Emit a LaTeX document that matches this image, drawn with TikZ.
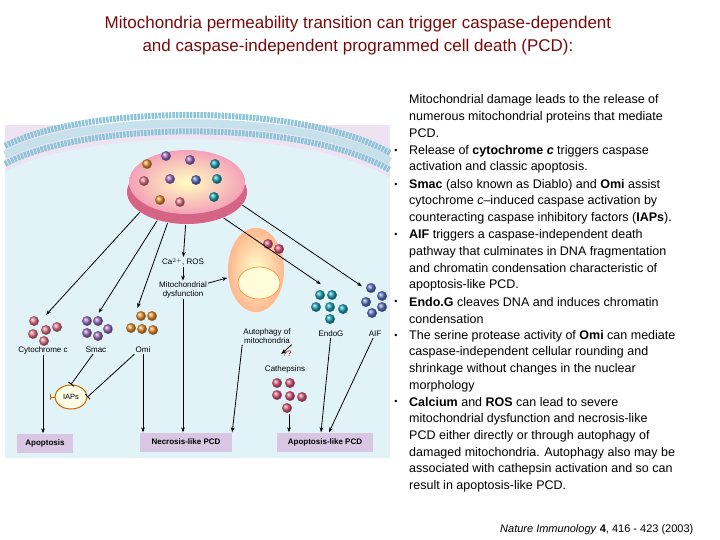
\documentclass[tikz,border=0pt]{standalone}
\usepackage{fontspec}
\setmainfont{Liberation Sans}
\usetikzlibrary{arrows.meta,shapes.geometric,calc}
\definecolor{titlered}{HTML}{7A0A0A}
\definecolor{cellbg}{HTML}{E2F3F8}
\definecolor{outbg}{HTML}{EDE3F2}
\definecolor{boxc}{HTML}{D9C6E3}
\definecolor{cyt}{HTML}{E8788C}
\definecolor{smac}{HTML}{A070C4}
\definecolor{omi}{HTML}{EC922E}
\definecolor{endog}{HTML}{1FA3BA}
\definecolor{aif}{HTML}{5E72C4}
\definecolor{cath}{HTML}{E05A82}
\definecolor{mito}{HTML}{EE6F93}
\definecolor{memb}{HTML}{8CC4D8}
\begin{document}
\begin{tikzpicture}[x=1pt,y=-1pt,
  ball/.style={circle,minimum size=9.5pt,inner sep=0pt,ball color=#1,draw=#1!70!black,line width=0.3pt},
  lab/.style={font=\fontsize{8}{9}\selectfont,align=center,inner sep=1pt},
  res/.style={fill=boxc,font=\bfseries\fontsize{8}{9}\selectfont,minimum height=19pt,inner sep=2pt},
  arr/.style={-{Stealth[length=5pt]},line width=0.8pt},
  inh/.style={-{Bar[width=7pt]},line width=0.8pt},
  txt/.style={anchor=west,inner sep=0pt,font=\fontsize{12.5}{14}\selectfont},
  bul/.style={inner sep=0pt,font=\fontsize{9}{10}\selectfont}]
\useasboundingbox (0,0) rectangle (720,540);
% title
\node[text=titlered,font=\fontsize{17}{23}\selectfont,align=center] (title) at (358,36)
 {Mitochondria permeability transition can trigger caspase-dependent\\and caspase-independent programmed cell death (PCD):};
% figure background
\fill[outbg] (5,125) rectangle (390,458);
\fill[cellbg] (5,172) .. controls (80,130) and (300,125) .. (390,178) -- (390,458) -- (5,458) -- cycle;
\draw[memb,line width=6pt,dash pattern=on 2.5pt off 1pt] (5,146) .. controls (80,106) and (300,101) .. (390,153);
\draw[memb,line width=6pt,dash pattern=on 2.5pt off 1pt] (5,164) .. controls (80,122) and (300,117) .. (390,170);
\draw[memb!50,line width=8pt] (5,155) .. controls (80,114) and (300,109) .. (390,161.5);
% mitochondrion
\fill[mito!90!black] (187,192) ellipse (60pt and 32pt);
\shade[inner color=yellow!25,outer color=mito!65] (187,182) ellipse (58pt and 32pt);
\node[ellipse,minimum width=128pt,minimum height=80pt,inner sep=0pt] (mito) at (187,185) {};
\foreach \p/\c in {{147,164}/omi,{166,156}/smac,{190,160}/smac,{215,164}/endog,{144,181}/cyt,{170,179}/smac,{196,180}/aif,{217,179}/endog,{160,200}/omi,{180,202}/cyt,{214,197}/endog}
  \node[ball=\c] at (\p) {};
% released protein clusters
\node[ball=cyt] at (34,321) {};\node[ball=cyt] at (46,330) {};\node[ball=cyt] at (57,327) {};\node[ball=cyt] at (33,334) {};\node[ball=cyt] at (44,341) {};
\node[ball=smac] at (87,321) {};\node[ball=smac] at (98,321) {};\node[ball=smac] at (108,329) {};\node[ball=smac] at (87,333) {};\node[ball=smac] at (98,336) {};
\node[ball=omi] at (141,316) {};\node[ball=omi] at (152,316) {};\node[ball=omi] at (131,328) {};\node[ball=omi] at (142,329) {};\node[ball=omi] at (153,330) {};
\node[ball=endog] at (320,295) {};\node[ball=endog] at (332,295) {};\node[ball=endog] at (316,307) {};\node[ball=endog] at (330,307) {};\node[ball=endog] at (343,309) {};\node[ball=endog] at (330,319) {};
\node[ball=aif] at (371,288) {};\node[ball=aif] at (382,296) {};\node[ball=aif] at (366,302) {};\node[ball=aif] at (382,307) {};\node[ball=aif] at (372,313) {};
\node[ball=cath] at (277,383) {};\node[ball=cath] at (290,383) {};\node[ball=cath] at (277,395) {};\node[ball=cath] at (290,396) {};\node[ball=cath] at (302,397) {};\node[ball=cath] at (287,408) {};
% labels
\node[lab] (cytl) at (43,350) {Cytochrome c};
\node[lab] (smacl) at (96,350) {Smac};
\node[lab] (omil) at (143,350) {Omi};
\node[lab] (cytc) at (45,316) {};
\node[lab] (smacc) at (98,314) {};
\node[lab] (omic) at (137,309) {};
\node[lab] (ca) at (183,262) {Ca$^{2+}$, ROS};
\node[lab] (dys) at (183,290) {Mitochondrial\\dysfunction};
\node[lab] (autol) at (267,336) {Autophagy of\\mitochondria};
\node[lab,text=red!70!black] (qq) at (287,354) {??};
\node[lab] (cathl) at (285,369) {Cathepsins};
\node[lab] (endogl) at (331,334) {EndoG};
\node[lab] (aifl) at (375,334) {AIF};
\node[lab] (endogc) at (322,285) {};
\node[lab] (aifc) at (363,287) {};
\node[lab] (cathc) at (289,413) {};
% autophagy mitochondrion
\shade[inner color=yellow!20,outer color=orange!40!pink!80] (256,270) ellipse (28pt and 42pt);
\node[ellipse,minimum width=58pt,minimum height=86pt] (auto) at (256,270) {};
\draw[orange!60!pink,line width=0.8pt,fill=yellow!15] (259,283) ellipse (21pt and 16pt);
\node[ball=cath] at (268,244) {};\node[ball=cath] at (279,249) {};
% IAPs
\node[ellipse,draw=orange!80!black,line width=1pt,fill=yellow!10,minimum width=32pt,minimum height=24pt,inner sep=0pt,font=\fontsize{7.5}{8}\selectfont] (iaps) at (71,397) {IAPs};
\draw[orange!80!black,line width=1pt] (iaps.west) -- ++(-4,0) ++(0,-3) -- ++(0,6);
% result boxes
\node[res,minimum width=56pt] (apo) at (45,443) {Apoptosis};
\node[res,minimum width=92pt] (nec) at (186,442) {Necrosis-like PCD};
\node[res,minimum width=96pt] (apl) at (325,442) {Apoptosis-like PCD};
% arrows
\draw[arr] (mito.210) -- (cytc);
\draw[arr] (mito.230) -- (smacc);
\draw[arr] (mito.243) -- (omic);
\draw[arr] (mito.268) -- (ca);
\draw[arr] (ca) -- (dys);
\draw[arr] (dys) -- (auto);
\draw[arr] (mito.318) -- (endogc);
\draw[arr] (mito.340) -- (aifc);
\draw[arr] (cytl) -- (cytl|-apo.north);
\draw[inh] (smacl) -- (iaps.north);
\draw[inh] (omil.south west) -- (iaps.east);
\draw[arr] (omil) -- (omil|-nec.north);
\draw[arr] (dys) -- (dys|-nec.north);
\draw[arr] (autol.south west) -- (nec.north east);
\draw[arr] (autol.south east) -- (qq.west);
\draw[arr] (cathc) -- (cathc|-apl.north);
\draw[arr] (endogl) -- ($(apl.north)+(-4,0)$);
\draw[arr] (aifl) -- ($(apl.north)+(4,0)$);
% right text
\node[txt] (t0) at (409,100) {Mitochondrial damage leads to the release of};
\node[txt] at (409,117) {numerous mitochondrial proteins that mediate};
\node[txt] at (409,133) {PCD.};
\node[txt] at (409,151) {Release of \textbf{cytochrome \textit{c}} triggers caspase};
\node[txt] at (409,167) {activation and classic apoptosis.};
\node[txt] at (409,185) {\textbf{Smac} (also known as Diablo) and \textbf{Omi} assist};
\node[txt] at (409,201) {cytochrome \textit{c}--induced caspase activation by};
\node[txt] at (409,218) {counteracting caspase inhibitory factors (\textbf{IAPs}).};
\node[txt] at (409,235) {\textbf{AIF} triggers a caspase-independent death};
\node[txt] at (409,252) {pathway that culminates in DNA fragmentation};
\node[txt] at (409,268) {and chromatin condensation characteristic of};
\node[txt] at (409,285) {apoptosis-like PCD.};
\node[txt] at (409,302) {\textbf{Endo.G} cleaves DNA and induces chromatin};
\node[txt] at (409,319) {condensation};
\node[txt] at (409,336) {The serine protease activity of \textbf{Omi} can mediate};
\node[txt] at (409,352) {caspase-independent cellular rounding and};
\node[txt] at (409,369) {shrinkage without changes in the nuclear};
\node[txt] at (409,386) {morphology};
\node[txt] at (409,402) {\textbf{Calcium} and \textbf{ROS} can lead to severe};
\node[txt] at (409,419) {mitochondrial dysfunction and necrosis-like};
\node[txt] at (409,436) {PCD either directly or through autophagy of};
\node[txt] at (409,453) {damaged mitochondria. Autophagy also may be};
\node[txt] at (409,469) {associated with cathepsin activation and so can};
\node[txt] at (409,486) {result in apoptosis-like PCD.};
\foreach \y in {151,185,235,302,336,402} \node[bul] at (396,\y) {\textbullet};
\node[txt,font=\fontsize{11}{13}\selectfont] (ref) at (500,530) {\textit{Nature Immunology} \textbf{4}, 416 - 423 (2003)};
\end{tikzpicture}
\end{document}
